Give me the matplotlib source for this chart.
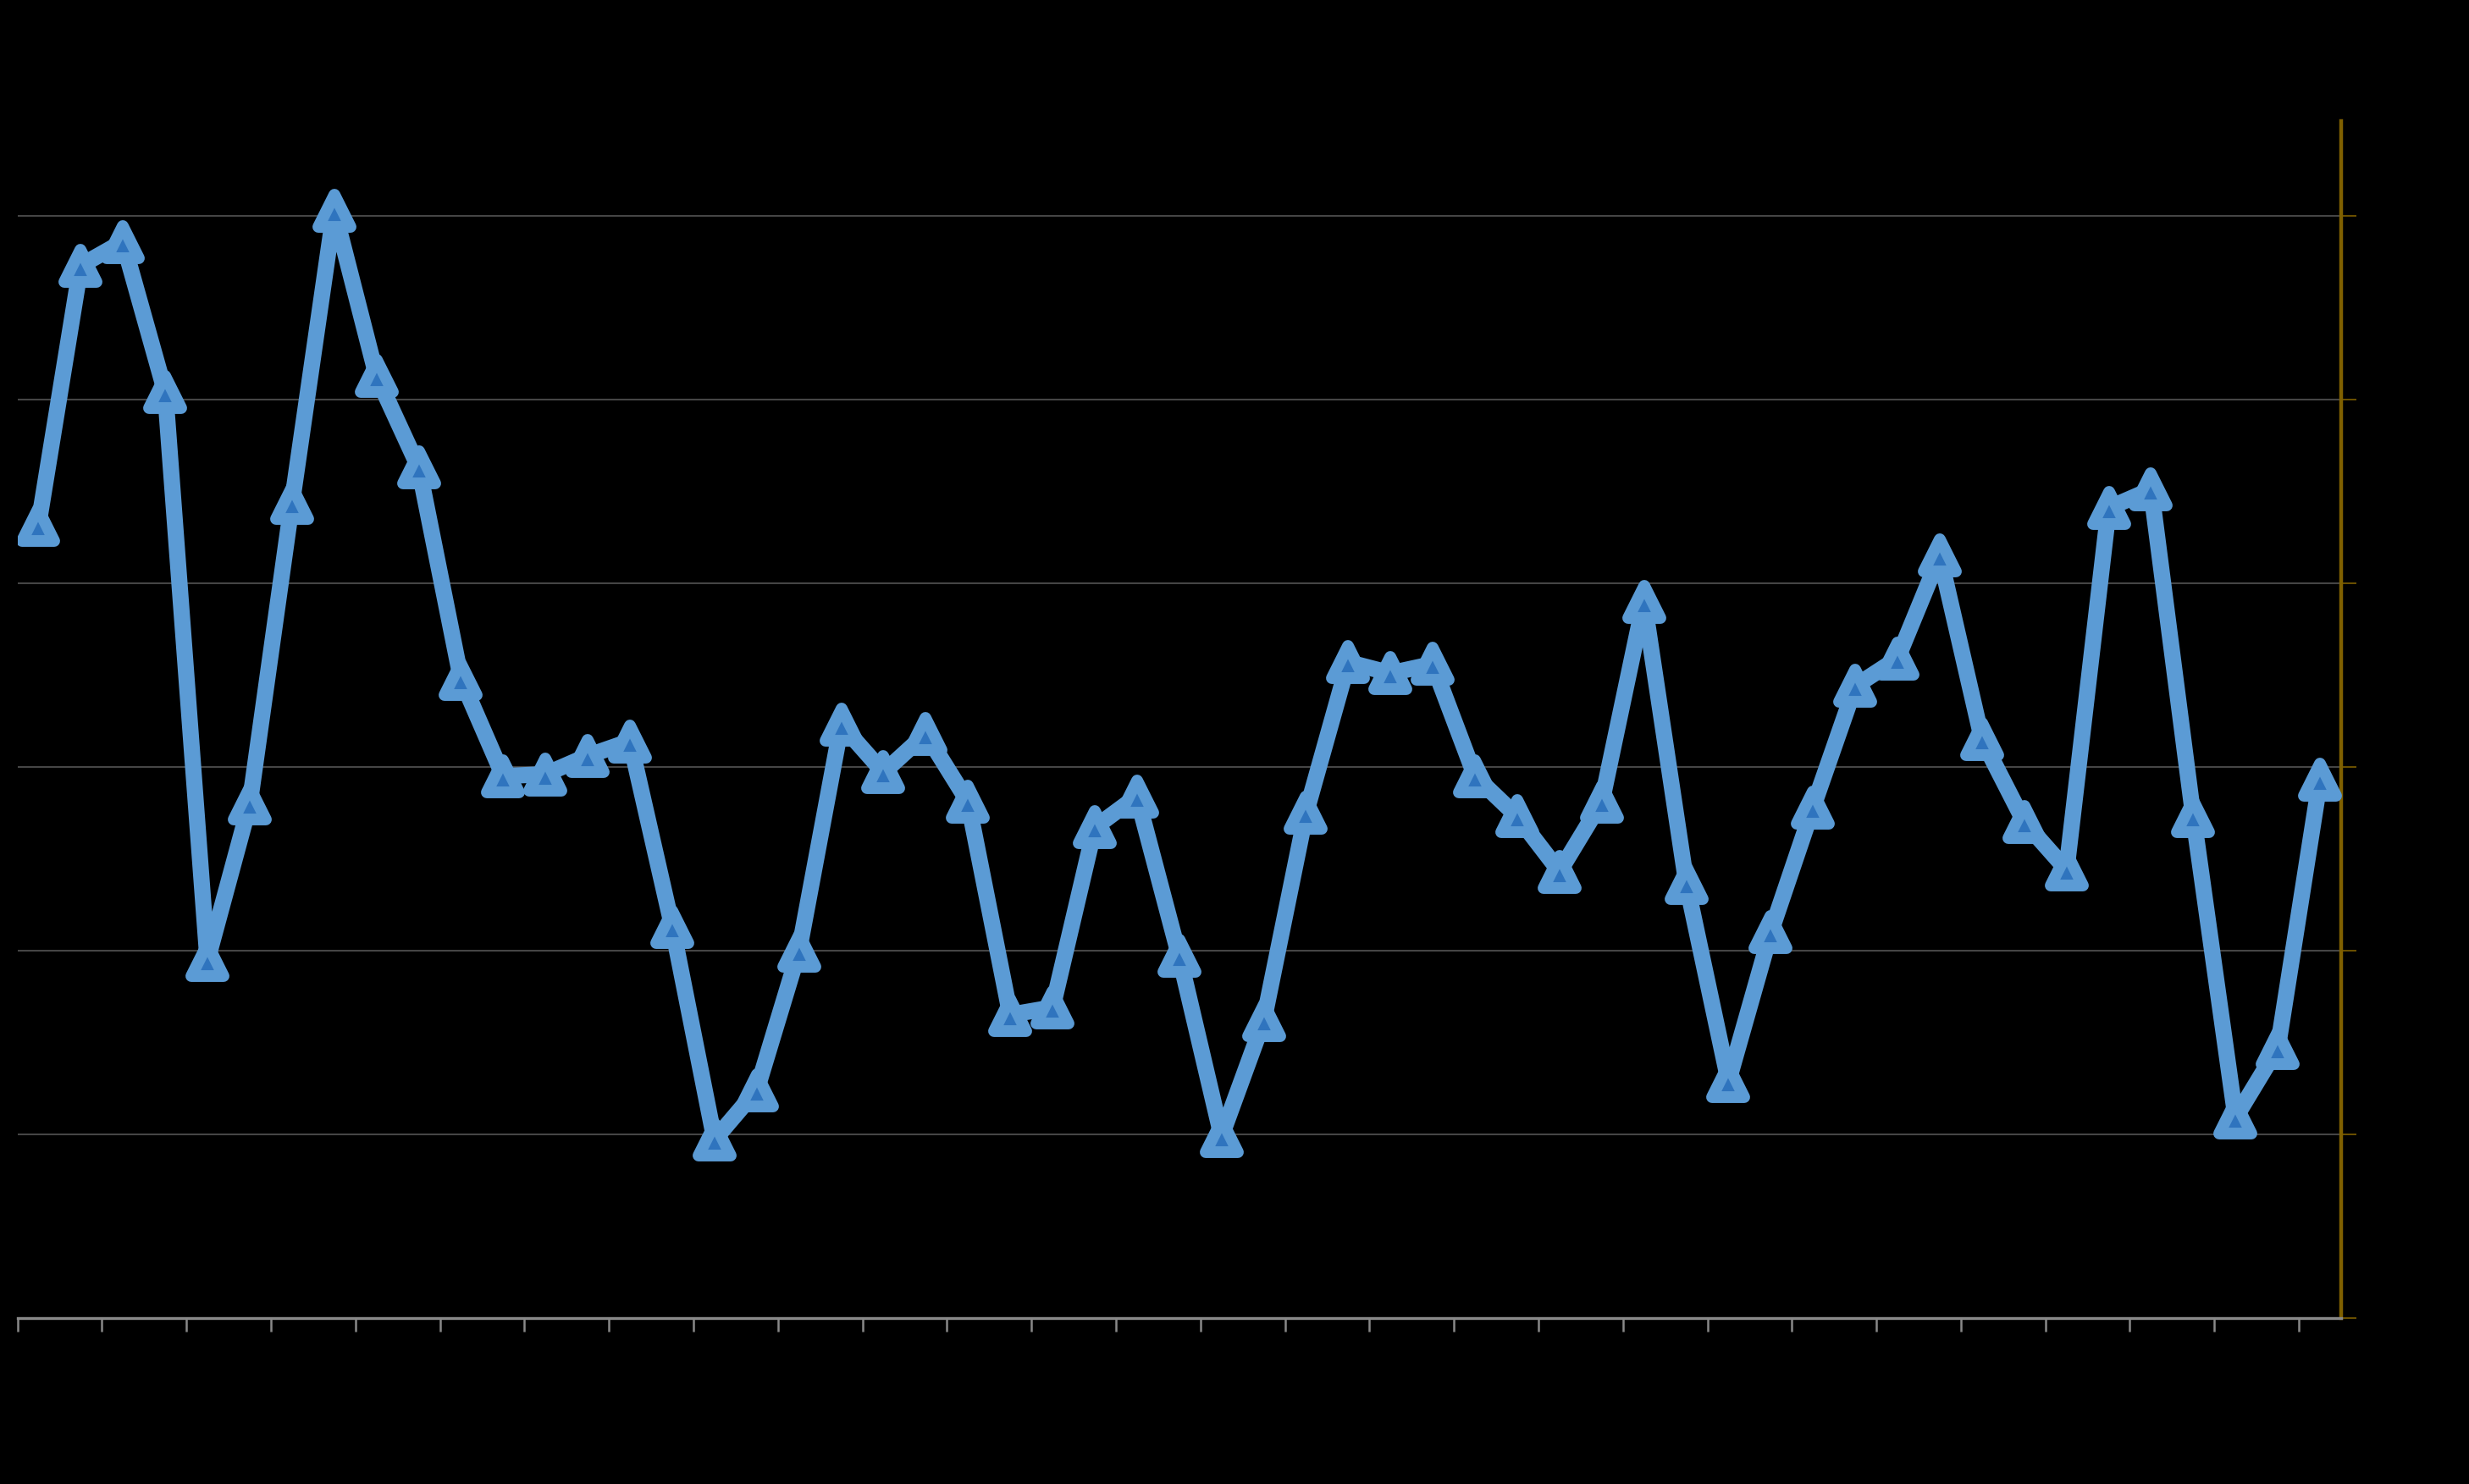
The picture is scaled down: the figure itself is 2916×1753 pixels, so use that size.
import matplotlib
matplotlib.use("Agg")
import matplotlib.pyplot as plt
from matplotlib.markers import MarkerStyle
import numpy as np

# 55 categories (labels not visible in the reference)
categories = list(range(1, 56))
values = [43.2, 57.3, 58.6, 50.4, 19.5, 28.0, 44.4, 60.3, 51.3, 46.3,
          34.8, 29.5, 29.6, 30.6, 31.4, 21.3, 9.7, 12.4, 20.0, 32.3,
          29.7, 31.8, 28.1, 16.5, 16.9, 26.7, 28.4, 19.7, 9.9, 16.2,
          27.5, 35.7, 35.1, 35.6, 29.5, 27.3, 24.3, 28.1, 39.0, 23.7,
          12.9, 21.0, 27.8, 34.4, 35.9, 41.5, 31.5, 27.0, 24.4, 44.1,
          45.1, 27.3, 10.9, 14.7, 29.3]
y_ticks = [0, 10, 20, 30, 40, 50, 60]

DPI = 200
fig = plt.figure(figsize=(2916 / DPI, 1753 / DPI), dpi=DPI, facecolor="black")
ax = fig.add_axes([20.5 / 2916, 1 - 1556.6 / 1753, (2765 - 20.5) / 2916, (1556.6 - 143) / 1753])
ax.set_facecolor("black")

x = np.arange(len(categories))
marker = MarkerStyle("^", joinstyle="round")
ax.plot(x, values, color="#5B9BD5", lw=6.9, marker=marker, markersize=13.9,
        markerfacecolor="#2F74BE", markeredgecolor="#5B9BD5", markeredgewidth=5.0,
        solid_joinstyle="round", zorder=3)

ax.set_xlim(-0.5, len(categories) - 0.5)
ax.set_ylim(0, 65.17)

# x ticks between every other category
ax.set_xticks(np.arange(-0.5, len(categories) - 0.5, 2))
ax.set_xticklabels([])
ax.tick_params(axis="x", direction="out", length=5.8, width=0.9, color="#898989")

ax.yaxis.tick_right()
ax.set_yticks(y_ticks)
ax.set_yticklabels([])
ax.tick_params(axis="y", which="both", direction="out", length=6.5, width=0.6,
               color="#7F6000", left=False, right=True)

ax.grid(axis="y", color="#454545", lw=0.75, zorder=0)
ax.set_axisbelow(True)

for s in ["top", "left"]:
    ax.spines[s].set_visible(False)
ax.spines["bottom"].set_color("#898989")
ax.spines["bottom"].set_linewidth(1.2)
ax.spines["right"].set_color("#7F6000")
ax.spines["right"].set_linewidth(1.6)

fig.savefig("out.png", dpi=DPI, facecolor="black")
